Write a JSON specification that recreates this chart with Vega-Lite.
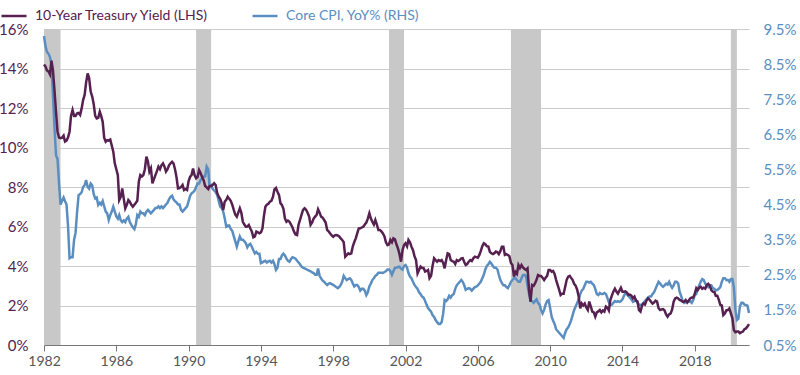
{
"$schema":"https://vega.github.io/schema/vega-lite/v6.json",
"width":705,"height":316,
"autosize":"none",
"padding":{"left":44,"top":29,"right":51,"bottom":30},
"config":{"view":{"stroke":null},"font":"Lato"},
"datasets":{
"rec":[{"s":"1982-01-01","e":"1982-12-01"},{"s":"1990-06-01","e":"1991-04-01"},{"s":"2001-02-01","e":"2001-12-01"},{"s":"2007-11-01","e":"2009-07-01"},{"s":"2020-01-01","e":"2020-05-01"}],
"m":[
{"d":"1982-01","t":14.2,"c":9.3},{"d":"1982-02","t":14.1,"c":9.0},{"d":"1982-03","t":13.9,"c":8.85},{"d":"1982-04","t":13.85,"c":8.8},{"d":"1982-05","t":13.7,"c":8.7},{"d":"1982-06","t":14.4,"c":8.5},{"d":"1982-07","t":13.9,"c":7.6},{"d":"1982-08","t":12.9,"c":6.7},{"d":"1982-09","t":11.8,"c":5.9},{"d":"1982-10","t":10.8,"c":5.8},{"d":"1982-11","t":10.5,"c":5.1},{"d":"1982-12","t":10.47,"c":4.5},
{"d":"1983-01","t":10.5,"c":4.6},{"d":"1983-02","t":10.6,"c":4.7},{"d":"1983-03","t":10.3,"c":4.6},{"d":"1983-04","t":10.35,"c":4.5},{"d":"1983-05","t":10.5,"c":3.9},{"d":"1983-06","t":10.8,"c":2.97},{"d":"1983-07","t":11.6,"c":3.0},{"d":"1983-08","t":11.9,"c":3.0},{"d":"1983-09","t":11.6,"c":3.5},{"d":"1983-10","t":11.6,"c":3.7},{"d":"1983-11","t":11.73,"c":4.3},{"d":"1983-12","t":11.75,"c":4.77},
{"d":"1984-01","t":11.65,"c":4.8},{"d":"1984-02","t":11.98,"c":4.85},{"d":"1984-03","t":12.4,"c":5.0},{"d":"1984-04","t":12.66,"c":5.05},{"d":"1984-05","t":13.3,"c":5.2},{"d":"1984-06","t":13.75,"c":5.0},{"d":"1984-07","t":13.5,"c":4.95},{"d":"1984-08","t":12.83,"c":5.1},{"d":"1984-09","t":12.58,"c":5.05},{"d":"1984-10","t":12.2,"c":4.8},{"d":"1984-11","t":11.6,"c":4.67},{"d":"1984-12","t":11.47,"c":4.7},
{"d":"1985-01","t":11.5,"c":4.49},{"d":"1985-02","t":11.81,"c":4.55},{"d":"1985-03","t":11.6,"c":4.5},{"d":"1985-04","t":11.3,"c":4.6},{"d":"1985-05","t":10.5,"c":4.45},{"d":"1985-06","t":10.29,"c":4.3},{"d":"1985-07","t":10.37,"c":4.25},{"d":"1985-08","t":10.35,"c":4.06},{"d":"1985-09","t":10.4,"c":4.2},{"d":"1985-10","t":10.1,"c":4.3},{"d":"1985-11","t":9.79,"c":4.44},{"d":"1985-12","t":9.2,"c":4.3},
{"d":"1986-01","t":8.9,"c":4.16},{"d":"1986-02","t":8.6,"c":4.1},{"d":"1986-03","t":7.34,"c":4.2},{"d":"1986-04","t":7.5,"c":4.05},{"d":"1986-05","t":7.93,"c":4.0},{"d":"1986-06","t":7.4,"c":4.05},{"d":"1986-07","t":6.92,"c":4.0},{"d":"1986-08","t":7.1,"c":4.1},{"d":"1986-09","t":7.34,"c":4.15},{"d":"1986-10","t":7.25,"c":4.0},{"d":"1986-11","t":7.1,"c":3.92},{"d":"1986-12","t":7.0,"c":3.85},
{"d":"1987-01","t":7.1,"c":3.8},{"d":"1987-02","t":7.2,"c":3.95},{"d":"1987-03","t":7.3,"c":4.2},{"d":"1987-04","t":8.27,"c":4.15},{"d":"1987-05","t":8.6,"c":4.3},{"d":"1987-06","t":8.53,"c":4.25},{"d":"1987-07","t":8.6,"c":4.25},{"d":"1987-08","t":8.9,"c":4.2},{"d":"1987-09","t":9.54,"c":4.3},{"d":"1987-10","t":9.3,"c":4.35},{"d":"1987-11","t":8.78,"c":4.3},{"d":"1987-12","t":8.95,"c":4.25},
{"d":"1988-01","t":8.19,"c":4.3},{"d":"1988-02","t":8.4,"c":4.35},{"d":"1988-03","t":8.6,"c":4.4},{"d":"1988-04","t":8.8,"c":4.4},{"d":"1988-05","t":9.03,"c":4.45},{"d":"1988-06","t":8.9,"c":4.4},{"d":"1988-07","t":9.1,"c":4.45},{"d":"1988-08","t":9.2,"c":4.4},{"d":"1988-09","t":9.03,"c":4.45},{"d":"1988-10","t":8.78,"c":4.5},{"d":"1988-11","t":8.9,"c":4.55},{"d":"1988-12","t":9.1,"c":4.65},
{"d":"1989-01","t":9.2,"c":4.72},{"d":"1989-02","t":9.28,"c":4.75},{"d":"1989-03","t":9.2,"c":4.65},{"d":"1989-04","t":8.9,"c":4.6},{"d":"1989-05","t":8.5,"c":4.56},{"d":"1989-06","t":7.93,"c":4.5},{"d":"1989-07","t":7.95,"c":4.5},{"d":"1989-08","t":8.0,"c":4.35},{"d":"1989-09","t":8.1,"c":4.3},{"d":"1989-10","t":7.85,"c":4.35},{"d":"1989-11","t":7.9,"c":4.4},{"d":"1989-12","t":7.85,"c":4.45},
{"d":"1990-01","t":8.3,"c":4.6},{"d":"1990-02","t":8.52,"c":4.75},{"d":"1990-03","t":8.6,"c":4.82},{"d":"1990-04","t":8.94,"c":4.85},{"d":"1990-05","t":8.6,"c":4.9},{"d":"1990-06","t":8.44,"c":5.0},{"d":"1990-07","t":8.5,"c":5.1},{"d":"1990-08","t":8.86,"c":5.1},{"d":"1990-09","t":8.7,"c":5.2},{"d":"1990-10","t":8.5,"c":5.25},{"d":"1990-11","t":8.35,"c":5.3},{"d":"1990-12","t":8.05,"c":5.3},
{"d":"1991-01","t":7.98,"c":5.58},{"d":"1991-02","t":7.9,"c":5.5},{"d":"1991-03","t":8.05,"c":5.0},{"d":"1991-04","t":8.05,"c":5.05},{"d":"1991-05","t":8.1,"c":4.95},{"d":"1991-06","t":8.19,"c":4.9},{"d":"1991-07","t":8.1,"c":4.85},{"d":"1991-08","t":7.7,"c":4.78},{"d":"1991-09","t":7.51,"c":4.6},{"d":"1991-10","t":7.4,"c":4.44},{"d":"1991-11","t":7.17,"c":4.4},{"d":"1991-12","t":6.84,"c":4.3},
{"d":"1992-01","t":7.26,"c":4.1},{"d":"1992-02","t":7.35,"c":3.87},{"d":"1992-03","t":7.51,"c":3.9},{"d":"1992-04","t":7.4,"c":3.9},{"d":"1992-05","t":7.3,"c":3.8},{"d":"1992-06","t":7.1,"c":3.75},{"d":"1992-07","t":6.84,"c":3.6},{"d":"1992-08","t":6.6,"c":3.45},{"d":"1992-09","t":6.5,"c":3.3},{"d":"1992-10","t":6.7,"c":3.45},{"d":"1992-11","t":6.92,"c":3.59},{"d":"1992-12","t":6.7,"c":3.5},
{"d":"1993-01","t":6.24,"c":3.5},{"d":"1993-02","t":6.1,"c":3.45},{"d":"1993-03","t":5.99,"c":3.4},{"d":"1993-04","t":6.0,"c":3.28},{"d":"1993-05","t":6.08,"c":3.35},{"d":"1993-06","t":5.9,"c":3.38},{"d":"1993-07","t":5.75,"c":3.3},{"d":"1993-08","t":5.45,"c":3.2},{"d":"1993-09","t":5.5,"c":3.11},{"d":"1993-10","t":5.74,"c":3.15},{"d":"1993-11","t":5.7,"c":3.1},{"d":"1993-12","t":5.66,"c":3.1},
{"d":"1994-01","t":5.7,"c":2.83},{"d":"1994-02","t":5.9,"c":2.85},{"d":"1994-03","t":6.5,"c":2.88},{"d":"1994-04","t":7.0,"c":2.9},{"d":"1994-05","t":7.1,"c":2.85},{"d":"1994-06","t":7.15,"c":2.88},{"d":"1994-07","t":7.26,"c":2.9},{"d":"1994-08","t":7.3,"c":2.85},{"d":"1994-09","t":7.5,"c":2.9},{"d":"1994-10","t":7.88,"c":2.8},{"d":"1994-11","t":7.95,"c":2.64},{"d":"1994-12","t":7.76,"c":2.7},
{"d":"1995-01","t":7.6,"c":2.95},{"d":"1995-02","t":7.17,"c":2.95},{"d":"1995-03","t":7.09,"c":3.05},{"d":"1995-04","t":6.9,"c":3.1},{"d":"1995-05","t":6.41,"c":3.05},{"d":"1995-06","t":6.24,"c":2.96},{"d":"1995-07","t":6.3,"c":2.9},{"d":"1995-08","t":6.24,"c":2.87},{"d":"1995-09","t":6.1,"c":2.95},{"d":"1995-10","t":5.95,"c":3.0},{"d":"1995-11","t":5.74,"c":2.98},{"d":"1995-12","t":5.6,"c":2.96},
{"d":"1996-01","t":5.57,"c":2.9},{"d":"1996-02","t":6.1,"c":2.85},{"d":"1996-03","t":6.33,"c":2.8},{"d":"1996-04","t":6.6,"c":2.73},{"d":"1996-05","t":6.84,"c":2.7},{"d":"1996-06","t":6.92,"c":2.68},{"d":"1996-07","t":6.85,"c":2.66},{"d":"1996-08","t":6.7,"c":2.64},{"d":"1996-09","t":6.5,"c":2.62},{"d":"1996-10","t":6.08,"c":2.6},{"d":"1996-11","t":6.2,"c":2.57},{"d":"1996-12","t":6.4,"c":2.55},
{"d":"1997-01","t":6.5,"c":2.5},{"d":"1997-02","t":6.6,"c":2.5},{"d":"1997-03","t":6.87,"c":2.68},{"d":"1997-04","t":6.7,"c":2.47},{"d":"1997-05","t":6.5,"c":2.4},{"d":"1997-06","t":6.45,"c":2.33},{"d":"1997-07","t":6.33,"c":2.3},{"d":"1997-08","t":6.2,"c":2.25},{"d":"1997-09","t":5.82,"c":2.21},{"d":"1997-10","t":5.75,"c":2.25},{"d":"1997-11","t":5.65,"c":2.26},{"d":"1997-12","t":5.55,"c":2.23},
{"d":"1998-01","t":5.48,"c":2.21},{"d":"1998-02","t":5.55,"c":2.18},{"d":"1998-03","t":5.57,"c":2.15},{"d":"1998-04","t":5.55,"c":2.12},{"d":"1998-05","t":5.5,"c":2.15},{"d":"1998-06","t":5.4,"c":2.21},{"d":"1998-07","t":5.32,"c":2.3},{"d":"1998-08","t":5.2,"c":2.47},{"d":"1998-09","t":4.47,"c":2.4},{"d":"1998-10","t":4.55,"c":2.35},{"d":"1998-11","t":4.64,"c":2.38},{"d":"1998-12","t":4.6,"c":2.4},
{"d":"1999-01","t":4.64,"c":2.35},{"d":"1999-02","t":5.0,"c":2.25},{"d":"1999-03","t":5.2,"c":2.17},{"d":"1999-04","t":5.4,"c":2.21},{"d":"1999-05","t":5.65,"c":2.21},{"d":"1999-06","t":5.9,"c":2.15},{"d":"1999-07","t":5.91,"c":2.05},{"d":"1999-08","t":5.95,"c":2.1},{"d":"1999-09","t":5.99,"c":2.1},{"d":"1999-10","t":6.1,"c":2.05},{"d":"1999-11","t":6.2,"c":1.92},{"d":"1999-12","t":6.4,"c":2.0},
{"d":"2000-01","t":6.67,"c":2.17},{"d":"2000-02","t":6.4,"c":2.25},{"d":"2000-03","t":6.24,"c":2.35},{"d":"2000-04","t":6.1,"c":2.4},{"d":"2000-05","t":6.33,"c":2.47},{"d":"2000-06","t":6.1,"c":2.5},{"d":"2000-07","t":5.82,"c":2.56},{"d":"2000-08","t":5.82,"c":2.56},{"d":"2000-09","t":5.75,"c":2.56},{"d":"2000-10","t":5.65,"c":2.55},{"d":"2000-11","t":5.5,"c":2.58},{"d":"2000-12","t":5.2,"c":2.6},
{"d":"2001-01","t":5.06,"c":2.65},{"d":"2001-02","t":5.1,"c":2.65},{"d":"2001-03","t":5.32,"c":2.6},{"d":"2001-04","t":5.2,"c":2.5},{"d":"2001-05","t":5.4,"c":2.6},{"d":"2001-06","t":5.35,"c":2.7},{"d":"2001-07","t":5.1,"c":2.7},{"d":"2001-08","t":4.89,"c":2.72},{"d":"2001-09","t":4.6,"c":2.73},{"d":"2001-10","t":4.22,"c":2.68},{"d":"2001-11","t":4.8,"c":2.65},{"d":"2001-12","t":5.06,"c":2.75},
{"d":"2002-01","t":5.15,"c":2.78},{"d":"2002-02","t":5.0,"c":2.7},{"d":"2002-03","t":5.32,"c":2.55},{"d":"2002-04","t":5.2,"c":2.45},{"d":"2002-05","t":4.98,"c":2.4},{"d":"2002-06","t":4.8,"c":2.3},{"d":"2002-07","t":4.5,"c":2.21},{"d":"2002-08","t":4.3,"c":2.15},{"d":"2002-09","t":3.63,"c":2.1},{"d":"2002-10","t":3.8,"c":2.0},{"d":"2002-11","t":3.97,"c":1.95},{"d":"2002-12","t":3.9,"c":1.88},
{"d":"2003-01","t":3.9,"c":1.85},{"d":"2003-02","t":3.72,"c":1.75},{"d":"2003-03","t":3.75,"c":1.65},{"d":"2003-04","t":3.8,"c":1.55},{"d":"2003-05","t":3.38,"c":1.5},{"d":"2003-06","t":3.5,"c":1.45},{"d":"2003-07","t":4.0,"c":1.35},{"d":"2003-08","t":4.39,"c":1.3},{"d":"2003-09","t":4.3,"c":1.21},{"d":"2003-10","t":4.22,"c":1.15},{"d":"2003-11","t":4.3,"c":1.1},{"d":"2003-12","t":4.25,"c":1.1},
{"d":"2004-01","t":4.3,"c":1.15},{"d":"2004-02","t":4.15,"c":1.4},{"d":"2004-03","t":3.88,"c":1.78},{"d":"2004-04","t":4.3,"c":1.75},{"d":"2004-05","t":4.64,"c":1.8},{"d":"2004-06","t":4.6,"c":1.9},{"d":"2004-07","t":4.3,"c":1.85},{"d":"2004-08","t":4.25,"c":1.92},{"d":"2004-09","t":4.22,"c":1.95},{"d":"2004-10","t":4.1,"c":2.1},{"d":"2004-11","t":4.3,"c":2.2},{"d":"2004-12","t":4.25,"c":2.25},
{"d":"2005-01","t":4.3,"c":2.3},{"d":"2005-02","t":4.39,"c":2.35},{"d":"2005-03","t":4.4,"c":2.3},{"d":"2005-04","t":4.2,"c":2.2},{"d":"2005-05","t":4.05,"c":2.07},{"d":"2005-06","t":4.1,"c":2.1},{"d":"2005-07","t":4.22,"c":2.12},{"d":"2005-08","t":4.3,"c":2.1},{"d":"2005-09","t":4.25,"c":2.05},{"d":"2005-10","t":4.39,"c":2.1},{"d":"2005-11","t":4.47,"c":2.15},{"d":"2005-12","t":4.45,"c":2.16},
{"d":"2006-01","t":4.42,"c":2.2},{"d":"2006-02","t":4.56,"c":2.25},{"d":"2006-03","t":4.75,"c":2.3},{"d":"2006-04","t":5.0,"c":2.4},{"d":"2006-05","t":5.15,"c":2.5},{"d":"2006-06","t":5.1,"c":2.65},{"d":"2006-07","t":5.0,"c":2.75},{"d":"2006-08","t":4.98,"c":2.8},{"d":"2006-09","t":4.72,"c":2.87},{"d":"2006-10","t":4.64,"c":2.82},{"d":"2006-11","t":4.6,"c":2.75},{"d":"2006-12","t":4.65,"c":2.7},
{"d":"2007-01","t":4.73,"c":2.7},{"d":"2007-02","t":4.7,"c":2.65},{"d":"2007-03","t":4.6,"c":2.5},{"d":"2007-04","t":4.75,"c":2.35},{"d":"2007-05","t":4.98,"c":2.27},{"d":"2007-06","t":4.98,"c":2.2},{"d":"2007-07","t":4.56,"c":2.2},{"d":"2007-08","t":4.6,"c":2.15},{"d":"2007-09","t":4.56,"c":2.12},{"d":"2007-10","t":4.5,"c":2.2},{"d":"2007-11","t":4.15,"c":2.3},{"d":"2007-12","t":4.05,"c":2.35},
{"d":"2008-01","t":3.46,"c":2.4},{"d":"2008-02","t":3.7,"c":2.4},{"d":"2008-03","t":3.6,"c":2.35},{"d":"2008-04","t":4.05,"c":2.3},{"d":"2008-05","t":3.9,"c":2.3},{"d":"2008-06","t":4.05,"c":2.4},{"d":"2008-07","t":3.93,"c":2.49},{"d":"2008-08","t":3.85,"c":2.5},{"d":"2008-09","t":3.8,"c":2.45},{"d":"2008-10","t":3.88,"c":2.2},{"d":"2008-11","t":2.78,"c":1.95},{"d":"2008-12","t":2.19,"c":1.78},
{"d":"2009-01","t":3.04,"c":1.75},{"d":"2009-02","t":3.0,"c":1.7},{"d":"2009-03","t":3.12,"c":1.75},{"d":"2009-04","t":3.3,"c":1.8},{"d":"2009-05","t":3.54,"c":1.7},{"d":"2009-06","t":3.5,"c":1.65},{"d":"2009-07","t":3.5,"c":1.5},{"d":"2009-08","t":3.4,"c":1.4},{"d":"2009-09","t":3.29,"c":1.5},{"d":"2009-10","t":3.4,"c":1.65},{"d":"2009-11","t":3.5,"c":1.75},{"d":"2009-12","t":3.8,"c":1.78},
{"d":"2010-01","t":3.8,"c":1.55},{"d":"2010-02","t":3.71,"c":1.3},{"d":"2010-03","t":3.75,"c":1.2},{"d":"2010-04","t":3.6,"c":1.1},{"d":"2010-05","t":3.3,"c":0.95},{"d":"2010-06","t":3.04,"c":0.9},{"d":"2010-07","t":2.8,"c":0.85},{"d":"2010-08","t":2.53,"c":0.8},{"d":"2010-09","t":2.6,"c":0.75},{"d":"2010-10","t":2.6,"c":0.7},{"d":"2010-11","t":2.95,"c":0.85},{"d":"2010-12","t":3.3,"c":0.95},
{"d":"2011-01","t":3.46,"c":1.0},{"d":"2011-02","t":3.5,"c":1.1},{"d":"2011-03","t":3.4,"c":1.2},{"d":"2011-04","t":3.29,"c":1.35},{"d":"2011-05","t":3.1,"c":1.5},{"d":"2011-06","t":3.0,"c":1.6},{"d":"2011-07","t":2.8,"c":1.7},{"d":"2011-08","t":2.45,"c":1.8},{"d":"2011-09","t":1.86,"c":1.95},{"d":"2011-10","t":2.1,"c":2.05},{"d":"2011-11","t":2.0,"c":2.1},{"d":"2011-12","t":2.1,"c":2.2},
{"d":"2012-01","t":1.9,"c":2.3},{"d":"2012-02","t":1.77,"c":2.3},{"d":"2012-03","t":2.2,"c":2.28},{"d":"2012-04","t":1.95,"c":2.3},{"d":"2012-05","t":1.69,"c":2.25},{"d":"2012-06","t":1.65,"c":2.21},{"d":"2012-07","t":1.43,"c":2.1},{"d":"2012-08","t":1.65,"c":1.95},{"d":"2012-09","t":1.7,"c":1.92},{"d":"2012-10","t":1.77,"c":1.98},{"d":"2012-11","t":1.65,"c":1.95},{"d":"2012-12","t":1.75,"c":1.95},
{"d":"2013-01","t":1.69,"c":1.98},{"d":"2013-02","t":1.95,"c":1.95},{"d":"2013-03","t":1.9,"c":1.85},{"d":"2013-04","t":1.75,"c":1.72},{"d":"2013-05","t":2.28,"c":1.64},{"d":"2013-06","t":2.5,"c":1.65},{"d":"2013-07","t":2.7,"c":1.7},{"d":"2013-08","t":2.85,"c":1.75},{"d":"2013-09","t":2.7,"c":1.73},{"d":"2013-10","t":2.6,"c":1.75},{"d":"2013-11","t":2.75,"c":1.73},{"d":"2013-12","t":2.9,"c":1.75},
{"d":"2014-01","t":2.7,"c":1.8},{"d":"2014-02","t":2.7,"c":1.9},{"d":"2014-03","t":2.72,"c":1.98},{"d":"2014-04","t":2.65,"c":1.95},{"d":"2014-05","t":2.53,"c":1.9},{"d":"2014-06","t":2.55,"c":1.85},{"d":"2014-07","t":2.5,"c":1.8},{"d":"2014-08","t":2.36,"c":1.73},{"d":"2014-09","t":2.45,"c":1.75},{"d":"2014-10","t":2.25,"c":1.78},{"d":"2014-11","t":2.2,"c":1.7},{"d":"2014-12","t":1.77,"c":1.65},
{"d":"2015-01","t":1.69,"c":1.64},{"d":"2015-02","t":2.0,"c":1.66},{"d":"2015-03","t":2.1,"c":1.7},{"d":"2015-04","t":2.05,"c":1.75},{"d":"2015-05","t":2.25,"c":1.8},{"d":"2015-06","t":2.36,"c":1.85},{"d":"2015-07","t":2.3,"c":1.88},{"d":"2015-08","t":2.19,"c":1.88},{"d":"2015-09","t":2.1,"c":1.95},{"d":"2015-10","t":2.15,"c":2.0},{"d":"2015-11","t":2.25,"c":2.1},{"d":"2015-12","t":2.2,"c":2.2},
{"d":"2016-01","t":1.86,"c":2.3},{"d":"2016-02","t":1.77,"c":2.25},{"d":"2016-03","t":1.8,"c":2.2},{"d":"2016-04","t":1.82,"c":2.16},{"d":"2016-05","t":1.75,"c":2.2},{"d":"2016-06","t":1.55,"c":2.25},{"d":"2016-07","t":1.43,"c":2.22},{"d":"2016-08","t":1.55,"c":2.3},{"d":"2016-09","t":1.6,"c":2.2},{"d":"2016-10","t":1.8,"c":2.13},{"d":"2016-11","t":2.2,"c":2.2},{"d":"2016-12","t":2.36,"c":2.3},
{"d":"2017-01","t":2.4,"c":2.3},{"d":"2017-02","t":2.36,"c":2.25},{"d":"2017-03","t":2.28,"c":2.02},{"d":"2017-04","t":2.25,"c":1.9},{"d":"2017-05","t":2.19,"c":1.75},{"d":"2017-06","t":2.2,"c":1.7},{"d":"2017-07","t":2.28,"c":1.72},{"d":"2017-08","t":2.15,"c":1.75},{"d":"2017-09","t":2.25,"c":1.73},{"d":"2017-10","t":2.36,"c":1.75},{"d":"2017-11","t":2.4,"c":1.7},{"d":"2017-12","t":2.4,"c":1.78},
{"d":"2018-01","t":2.6,"c":1.92},{"d":"2018-02","t":2.87,"c":1.95},{"d":"2018-03","t":2.78,"c":2.1},{"d":"2018-04","t":2.9,"c":2.2},{"d":"2018-05","t":2.95,"c":2.3},{"d":"2018-06","t":2.85,"c":2.38},{"d":"2018-07","t":2.9,"c":2.35},{"d":"2018-08","t":2.85,"c":2.25},{"d":"2018-09","t":3.04,"c":2.2},{"d":"2018-10","t":3.1,"c":2.15},{"d":"2018-11","t":3.0,"c":2.2},{"d":"2018-12","t":2.78,"c":2.2},
{"d":"2019-01","t":2.7,"c":2.12},{"d":"2019-02","t":2.68,"c":2.1},{"d":"2019-03","t":2.5,"c":2.05},{"d":"2019-04","t":2.5,"c":2.07},{"d":"2019-05","t":2.3,"c":2.1},{"d":"2019-06","t":2.03,"c":2.15},{"d":"2019-07","t":2.0,"c":2.3},{"d":"2019-08","t":1.52,"c":2.4},{"d":"2019-09","t":1.6,"c":2.4},{"d":"2019-10","t":1.75,"c":2.35},{"d":"2019-11","t":1.77,"c":2.35},{"d":"2019-12","t":1.85,"c":2.3},
{"d":"2020-01","t":1.6,"c":2.38},{"d":"2020-02","t":1.35,"c":2.38},{"d":"2020-03","t":0.76,"c":2.15},{"d":"2020-04","t":0.65,"c":1.5},{"d":"2020-05","t":0.68,"c":1.21},{"d":"2020-06","t":0.68,"c":1.25},{"d":"2020-07","t":0.6,"c":1.6},{"d":"2020-08","t":0.65,"c":1.7},{"d":"2020-09","t":0.68,"c":1.7},{"d":"2020-10","t":0.8,"c":1.65},{"d":"2020-11","t":0.84,"c":1.64},{"d":"2020-12","t":0.93,"c":1.62},
{"d":"2021-01","t":1.06,"c":1.41}
]},
"layer":[
{"data":{"name":"rec"},
 "mark":{"type":"rect","color":"#c8c8c8"},
 "encoding":{
  "x":{"field":"s","type":"temporal","scale":{"domain":["1982-01-01","2021-01-01"]},
   "axis":{"values":["1982-01-01","1986-01-01","1990-01-01","1994-01-01","1998-01-01","2002-01-01","2006-01-01","2010-01-01","2014-01-01","2018-01-01"],
    "labelExpr":"utcFormat(datum.value,'%Y')","labelFlush":false,"labelOverlap":false,"title":null,"grid":false,"domainColor":"#777777","tickColor":"#777777","tickSize":6,"labelFontSize":14,"labelColor":"#555555","labelPadding":3,"labelFont":"Lato"}},
  "x2":{"field":"e"}}},
{"data":{"name":"m"},
 "mark":{"type":"line","strokeWidth":2.5},
 "encoding":{
  "x":{"field":"d","type":"temporal"},
  "y":{"field":"c","type":"quantitative","scale":{"domain":[0.5,9.5],"nice":false,"zero":false},
   "axis":{"orient":"right","values":[0.5,1.5,2.5,3.5,4.5,5.5,6.5,7.5,8.5,9.5],"labelExpr":"format(datum.value,'.1f')+'%'","title":null,"grid":false,"domain":false,"ticks":false,"labelPadding":14,"labelFontSize":15,"labelColor":"#5b8ec0","labelFont":"Lato"}},
  "color":{"datum":"Core CPI, YoY% (RHS)"}}},
{"data":{"name":"m"},
 "mark":{"type":"line","strokeWidth":2.5},
 "encoding":{
  "x":{"field":"d","type":"temporal"},
  "y":{"field":"t","type":"quantitative","scale":{"domain":[0,16],"nice":false},
   "axis":{"orient":"left","values":[0,2,4,6,8,10,12,14,16],"labelExpr":"datum.value+'%'","title":null,"grid":true,"gridColor":"#cccccc","gridWidth":1,"domain":false,"ticks":false,"labelPadding":16,"labelFontSize":15,"labelColor":"#562150","labelFont":"Lato"}},
  "color":{"datum":"10-Year Treasury Yield (LHS)",
   "scale":{"domain":["10-Year Treasury Yield (LHS)","Core CPI, YoY% (RHS)"],"range":["#562150","#5b8ec0"]},
   "legend":{"orient":"none","legendX":-44,"legendY":-27,"direction":"horizontal","title":null,"symbolType":"stroke","symbolSize":625,"symbolStrokeWidth":2.5,"labelFontSize":14,"labelFont":"Lato","labelLimit":400,"labelOffset":7,"columnPadding":38,
    "encode":{"labels":{"update":{"fill":{"signal":"datum.value === '10-Year Treasury Yield (LHS)' ? '#562150' : '#5b8ec0'"}}}}}}}}
],
"resolve":{"scale":{"y":"independent"}}
}
